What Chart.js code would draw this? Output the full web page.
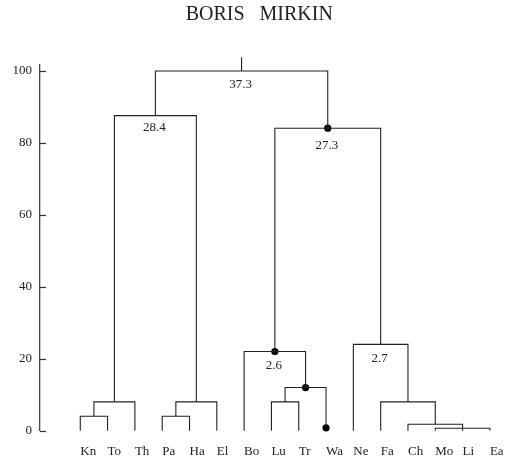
<!DOCTYPE html>
<html>
<head>
<meta charset="utf-8">
<script src="https://cdn.jsdelivr.net/npm/chart.js@4.4.1/dist/chart.umd.min.js"></script>
<style>
  html, body { margin: 0; padding: 0; background: #ffffff; }
  #wrap { width: 506px; height: 462px; }
</style>
</head>
<body>
<div id="wrap"><canvas id="c" width="506" height="462"></canvas></div>
<script>
// Leaves of the dendrogram, left to right
const leaves = ['Kn', 'To', 'Th', 'Pa', 'Ha', 'El', 'Bo', 'Lu', 'Tr', 'Wa', 'Ne', 'Fa', 'Ch', 'Mo', 'Li', 'Ea'];
// Height at which each leaf's stem ends (Wa stops at its marker)
const leafHeights = [0, 0, 0, 0, 0, 0, 0, 0, 0, 0.8, 0, 0, 0, 0, 0, 0];

// Merges, in build order: name, children, height
const mergeNames = ['KT', 'KTT', 'PH', 'PHE', 'L', 'LT', 'LTW', 'B', 'MLE', 'CM', 'FC', 'N', 'R', 'ROOT'];
const mergeKids = [
  ['Kn', 'To'], ['KT', 'Th'], ['Pa', 'Ha'], ['PH', 'El'], ['KTT', 'PHE'],
  ['Lu', 'Tr'], ['LT', 'Wa'], ['Bo', 'LTW'],
  ['Mo', 'Li', 'Ea'], ['Ch', 'MLE'], ['Fa', 'CM'], ['Ne', 'FC'],
  ['B', 'N'], ['L', 'R']
];
const mergeHeights = [4, 8, 4, 8, 87.6, 8, 12, 22, 0.7, 1.8, 8, 24, 84.1, 100];
const rootStubTop = 103.8;

// Values printed under some of the merges
const labelNodes = ['ROOT', 'L', 'R', 'B', 'N'];
const labelTexts = ['37.3', '28.4', '27.3', '2.6', '2.7'];

// Merges (and leaves) marked with a dot
const markedNodes = ['R', 'B', 'LTW', 'Wa'];

// Axis ticks
const yTicks = [0, 20, 40, 60, 80, 100];

// ---- layout of the tree in data units ----
const nodeX = {}, nodeH = {};
leaves.forEach((n, i) => { nodeX[n] = i; nodeH[n] = leafHeights[i]; });
mergeNames.forEach((n, k) => {
  const xs = mergeKids[k].map(c => nodeX[c]);
  nodeX[n] = (Math.min(...xs) + Math.max(...xs)) / 2;
  nodeH[n] = mergeHeights[k];
});

const LINE = '#222';
const lineStyle = {
  showLine: true, borderColor: LINE, borderWidth: 1.1, pointRadius: 0,
  pointHoverRadius: 0, tension: 0, clip: false, fill: false
};

const datasets = [];
mergeNames.forEach((n, k) => {
  const kids = mergeKids[k].slice().sort((a, b) => nodeX[a] - nodeX[b]);
  const H = nodeH[n];
  const first = kids[0], last = kids[kids.length - 1];
  datasets.push(Object.assign({
    data: [
      { x: nodeX[first], y: nodeH[first] }, { x: nodeX[first], y: H },
      { x: nodeX[last], y: H }, { x: nodeX[last], y: nodeH[last] }
    ]
  }, lineStyle));
  kids.slice(1, -1).forEach(c => {
    datasets.push(Object.assign({
      data: [{ x: nodeX[c], y: nodeH[c] }, { x: nodeX[c], y: H }]
    }, lineStyle));
  });
});
// stem above the root
datasets.push(Object.assign({
  data: [{ x: nodeX.ROOT, y: nodeH.ROOT }, { x: nodeX.ROOT, y: rootStubTop }]
}, lineStyle));
// dots
datasets.push({
  data: markedNodes.map(n => ({ x: nodeX[n], y: nodeH[n] })),
  showLine: false, pointRadius: 3.6, pointHoverRadius: 3.6,
  pointBackgroundColor: '#000', pointBorderColor: '#000', borderWidth: 0, clip: false
});

const SERIF = '"Liberation Serif", "Times New Roman", serif';

// values written under merges (pixel drop below each merge line)
const labelDrop = [14, 12, 17, 14, 14];
const mergeLabels = {
  id: 'mergeLabels',
  afterDatasetsDraw(chart) {
    const { ctx, scales: { x, y } } = chart;
    ctx.save();
    ctx.font = '13px ' + SERIF;
    ctx.fillStyle = '#222';
    ctx.textAlign = 'center';
    ctx.textBaseline = 'middle';
    labelNodes.forEach((n, i) => {
      ctx.fillText(labelTexts[i], x.getPixelForValue(nodeX[n]) - 1, y.getPixelForValue(nodeH[n]) + labelDrop[i]);
    });
    ctx.restore();
  }
};

// short tick marks pointing into the plot from the y axis
const innerTicks = {
  id: 'innerTicks',
  afterDraw(chart) {
    const { ctx, chartArea, scales: { y } } = chart;
    ctx.save();
    ctx.strokeStyle = '#333';
    ctx.lineWidth = 1.2;
    y.ticks.forEach(t => {
      const py = Math.round(y.getPixelForValue(t.value)) + 0.5;
      ctx.beginPath();
      ctx.moveTo(chartArea.left, py);
      ctx.lineTo(chartArea.left + 6, py);
      ctx.stroke();
    });
    ctx.restore();
  }
};

new Chart(document.getElementById('c'), {
  type: 'scatter',
  data: { datasets },
  options: {
    responsive: false,
    animation: false,
    events: [],
    layout: { padding: { left: 12.5, right: 0, top: 0, bottom: 4.2 } },
    plugins: {
      legend: { display: false },
      tooltip: { enabled: false },
      title: {
        display: true,
        text: 'BORIS   MIRKIN',
        color: '#222',
        font: { family: SERIF, size: 20, weight: 'normal', lineHeight: 1.2 },
        padding: { top: 3, bottom: 38 }
      }
    },
    scales: {
      x: {
        type: 'linear',
        min: -1.475,
        max: 15.458,
        grid: { display: false, drawTicks: false, tickLength: 0 },
        border: { display: false },
        afterBuildTicks: s => { s.ticks = leaves.map((_, i) => ({ value: i })); },
        afterFit: s => { s.paddingLeft = 0; s.paddingRight = 0; s.height = 27.1; },
        ticks: {
          autoSkip: false,
          maxRotation: 0,
          align: 'start',
          padding: 13,
          color: '#222',
          font: { family: SERIF, size: 13 },
          callback: v => leaves[v]
        }
      },
      y: {
        type: 'linear',
        min: 0,
        max: 101.67,
        grid: { display: false, drawTicks: false, tickLength: 0 },
        border: { display: true, color: '#444', width: 1.3 },
        afterBuildTicks: s => { s.ticks = yTicks.map(v => ({ value: v })); },
        afterFit: s => { s.width = 27.5; s.paddingTop = 0; s.paddingBottom = 0; },
        ticks: {
          padding: 8,
          color: '#222',
          font: { family: SERIF, size: 13 },
          callback: v => String(v)
        }
      }
    }
  },
  plugins: [mergeLabels, innerTicks]
});
</script>
</body>
</html>
